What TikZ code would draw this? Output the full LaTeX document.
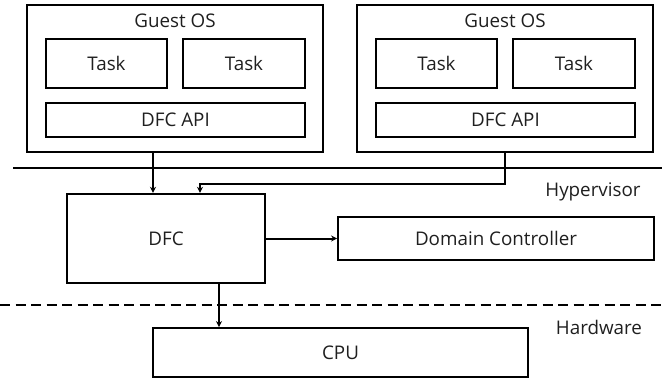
\documentclass[tikz,border=0pt]{standalone}
\usepackage{fontspec}
\setmainfont{Open Sans}
\usetikzlibrary{arrows.meta}
\begin{document}
\begin{tikzpicture}[x=1pt,y=-1pt,
  every node/.style={font=\fontsize{18.8}{22}\selectfont, text=black!88},
  outerbox/.style={draw, line width=2.6pt, inner sep=0pt},
  innerbox/.style={draw, line width=1.9pt, inner sep=0pt},
  mainbox/.style={draw, line width=2.4pt, inner sep=0pt},
  lbl/.style={inner sep=0pt},
  arr/.style={line width=2pt, -{Stealth[length=6pt,width=6pt]}},
  sep/.style={line width=1.6pt},
  hwsep/.style={line width=2.2pt, dash pattern=on 10pt off 5.5pt}]
\useasboundingbox (0,0) rectangle (662,380);
% guest OS 1
\node[outerbox, minimum width=296pt, minimum height=147pt] (os1) at (175,78.5) {};
\node[lbl] (gos1) at (175,21) {Guest OS};
\node[innerbox, minimum width=121pt, minimum height=49pt] (t1a) at (106.5,63.5) {Task};
\node[innerbox, minimum width=122pt, minimum height=49pt] (t1b) at (244,63.5) {Task};
\node[innerbox, minimum width=259pt, minimum height=34pt] (api1) at (175.5,120) {DFC API};
% guest OS 2
\node[outerbox, minimum width=296pt, minimum height=147pt] (os2) at (505,78.5) {};
\node[lbl] (gos2) at (505,21) {Guest OS};
\node[innerbox, minimum width=121pt, minimum height=49pt] (t2a) at (436.5,63.5) {Task};
\node[innerbox, minimum width=122pt, minimum height=49pt] (t2b) at (574,63.5) {Task};
\node[innerbox, minimum width=259pt, minimum height=34pt] (api2) at (505.5,120) {DFC API};
% separators
\draw[sep] (13,168) -- (662,168);
\node[lbl] (hyp) at (593,192) {Hypervisor};
\draw[hwsep] (0,305) -- (662,305);
\node[lbl] (hw) at (599,327) {Hardware};
% hypervisor level
\node[mainbox, minimum width=198pt, minimum height=89pt] (dfc) at (166,238.5) {DFC};
\node[innerbox, minimum width=316pt, minimum height=43pt] (dc) at (496,238.5) {Domain Controller};
\node[innerbox, minimum width=375pt, minimum height=49pt] (cpu) at (340.5,352.5) {CPU};
% connectors
\draw[arr] ([xshift=-22pt]os1.south) -- ([xshift=-22pt]os1.south |- dfc.north);
\draw[arr] (os2.south) -- ++(0,31) -| ([xshift=34pt]dfc.north);
\draw[arr] (dfc.east) -- (dc.west);
\draw[arr] ([xshift=53pt]dfc.south) -- ([xshift=53pt]dfc.south |- cpu.north);
\end{tikzpicture}
\end{document}
